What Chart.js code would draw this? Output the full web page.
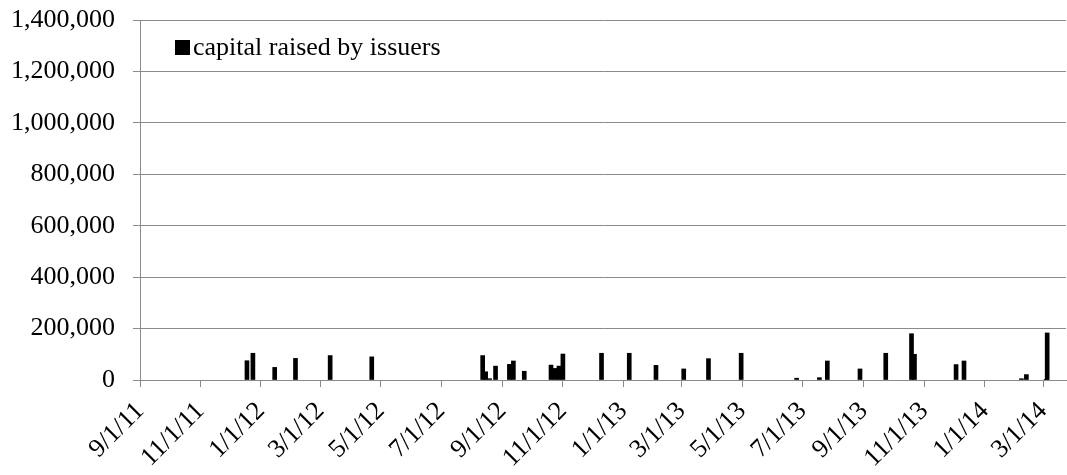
<!DOCTYPE html>
<html>
<head>
<meta charset="utf-8">
<script src="https://cdn.jsdelivr.net/npm/chart.js@4/dist/chart.umd.min.js"></script>
<style>
  body { margin: 0; background: #fff; }
</style>
</head>
<body>
<canvas id="grafico" width="1067" height="475"></canvas>
<script>
// datas de emissão (m/d/aa) e valores captados
const datasEmissao = [
  "12/18/11", "12/24/11", "1/15/12", "2/5/12", "3/11/12", "4/22/12",
  "8/12/12", "8/15/12", "8/19/12", "8/25/12", "9/8/12", "9/12/12", "9/23/12",
  "10/20/12", "10/24/12", "10/28/12", "11/1/12", "12/10/12",
  "1/7/13", "2/3/13", "3/3/13", "3/28/13", "4/30/13",
  "6/25/13", "7/18/13", "7/26/13", "8/28/13", "9/23/13",
  "10/19/13", "10/22/13", "12/3/13", "12/11/13",
  "2/7/14", "2/12/14", "3/4/14", "3/5/14"
];
const capitalLevantado = [
  75000, 104000, 49000, 84000, 95000, 90000,
  95000, 32000, 5000, 54000, 61000, 74000, 34000,
  58000, 45000, 54000, 101000, 104000,
  104000, 57000, 43000, 83000, 104000,
  7000, 9000, 74000, 43000, 104000,
  180000, 100000, 60000, 74000,
  5000, 21000, 3000, 183000
];

// rótulos do eixo x (a cada 2 meses)
const rotulosEixoX = [
  "9/1/11", "11/1/11", "1/1/12", "3/1/12", "5/1/12", "7/1/12", "9/1/12",
  "11/1/12", "1/1/13", "3/1/13", "5/1/13", "7/1/13", "9/1/13", "11/1/13",
  "1/1/14", "3/1/14"
];

const rotuloSerie = "capital raised by issuers";
const diaFinal = 935; // fim do eixo (dias desde 9/1/11)

// converte "m/d/aa" em dias desde 9/1/11
function paraDias(texto) {
  const p = texto.split("/");
  const t = Date.UTC(2000 + Number(p[2]), Number(p[0]) - 1, Number(p[1]));
  return Math.round((t - Date.UTC(2011, 8, 1)) / 86400000);
}

const diasTicks = rotulosEixoX.map(paraDias);
const pontos = datasEmissao.map((d, i) => ({ x: paraDias(d), y: capitalLevantado[i] }));

const fonte = { family: "'Liberation Serif', 'Times New Roman', serif", size: 26 };
const cinza = "#8a8a8a";

// legenda desenhada dentro da área do gráfico
const legendaInterna = {
  id: "legendaInterna",
  afterDraw(chart) {
    const ctx = chart.ctx;
    const area = chart.chartArea;
    ctx.save();
    ctx.fillStyle = "#000";
    ctx.fillRect(area.left + 35, area.top + 20, 15, 15);
    ctx.font = "26px " + fonte.family;
    ctx.textBaseline = "middle";
    ctx.fillText(chart.data.datasets[0].label, area.left + 53, area.top + 28);
    ctx.restore();
  }
};

const ctx = document.getElementById("grafico").getContext("2d");

const grafico = new Chart(ctx, {
  type: "bar",
  data: {
    datasets: [{
      label: rotuloSerie,
      data: pontos,
      backgroundColor: "#000",
      barThickness: 4
    }]
  },
  options: {
    responsive: false,
    animation: false,
    layout: { padding: { top: 20, right: 1 } },
    plugins: {
      legend: { display: false },
      tooltip: { enabled: false }
    },
    scales: {
      x: {
        type: "linear",
        min: 0,
        max: diaFinal,
        offset: false,
        afterBuildTicks: (scale) => {
          scale.ticks = diasTicks.map(v => ({ value: v }));
        },
        afterFit: (scale) => {
          scale.height = 95;
          scale.paddingLeft = 0;
          scale.paddingRight = 0;
        },
        ticks: {
          color: "#000",
          font: fonte,
          minRotation: 45,
          maxRotation: 45,
          autoSkip: false,
          padding: 9,
          callback: (v) => rotulosEixoX[diasTicks.indexOf(v)]
        },
        grid: {
          offset: false,
          drawOnChartArea: false,
          color: cinza,
          tickLength: 7
        },
        border: { color: cinza }
      },
      y: {
        min: 0,
        max: 1400000,
        afterFit: (scale) => {
          scale.width = 140;
          scale.paddingTop = 0;
        },
        ticks: {
          stepSize: 200000,
          color: "#000",
          font: fonte,
          padding: 18,
          callback: (v) => v.toLocaleString("en-US")
        },
        grid: {
          color: cinza,
          tickLength: 7
        },
        border: { color: cinza }
      }
    }
  },
  plugins: [legendaInterna]
});
</script>
</body>
</html>
